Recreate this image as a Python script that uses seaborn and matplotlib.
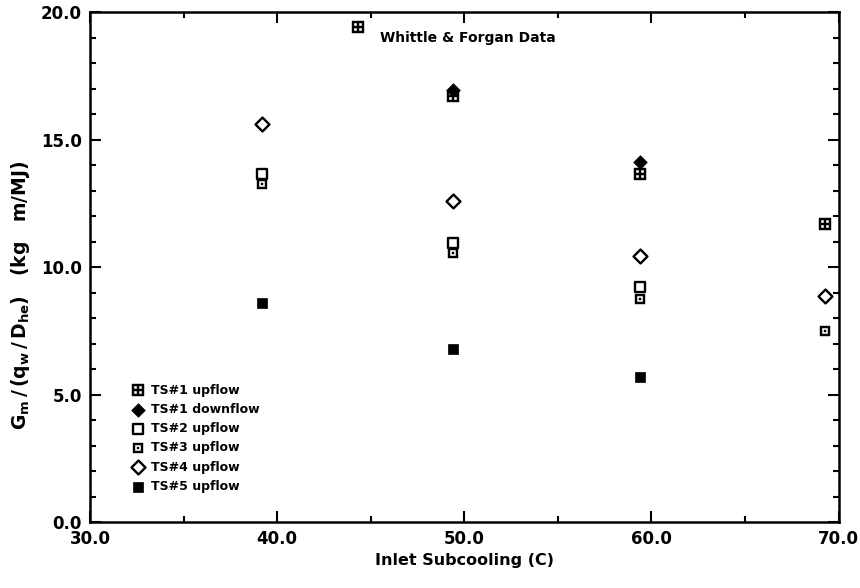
import numpy as np
import pandas as pd
import matplotlib
matplotlib.use("Agg")
import matplotlib.pyplot as plt
from matplotlib.path import Path
from matplotlib.ticker import MultipleLocator, FormatStrFormatter
import seaborn as sns

# ---- data ----
ts1_up_x = [44.3, 49.4, 59.4, 69.3]
ts1_up_y = [19.4, 16.7, 13.65, 11.7]
ts1_dn_x = [49.4, 59.4]
ts1_dn_y = [16.95, 14.1]
ts2_x = [39.2, 49.4, 59.4]
ts2_y = [13.65, 10.95, 9.2]
ts3_x = [39.2, 49.4, 59.4, 69.3]
ts3_y = [13.25, 10.55, 8.75, 7.5]
ts4_x = [39.2, 49.4, 59.4, 69.3]
ts4_y = [15.6, 12.6, 10.45, 8.87]
ts5_x = [39.2, 49.4, 59.4]
ts5_y = [8.6, 6.8, 5.7]

labels = ["TS#1 upflow", "TS#1 downflow", "TS#2 upflow",
          "TS#3 upflow", "TS#4 upflow", "TS#5 upflow"]

sns.set_style("ticks")
plt.rcParams["font.family"] = ["DejaVu Sans"]
plt.rcParams["font.weight"] = "bold"
plt.rcParams["mathtext.default"] = "bf"
plt.rcParams["axes.linewidth"] = 1.8
for k in ["text.color", "axes.labelcolor", "xtick.color", "ytick.color", "axes.edgecolor"]:
    plt.rcParams[k] = "black"


def sq(x0, x1, y0, y1, ccw=True):
    v = [(x0, y0), (x1, y0), (x1, y1), (x0, y1)]
    if not ccw:
        v = v[::-1]
    return v + [(x0, y0)], [Path.MOVETO, Path.LINETO, Path.LINETO, Path.LINETO, Path.CLOSEPOLY]


def compound(parts):
    verts, codes = [], []
    for v, c in parts:
        verts += v
        codes += c
    return Path(verts, codes)


# square with a 2x2 grid of holes (TS#1 upflow)
m_grid = compound([
    sq(-1, 1, -1, 1, True),
    sq(-0.62, -0.12, 0.12, 0.62, False),
    sq(0.12, 0.62, 0.12, 0.62, False),
    sq(-0.62, -0.12, -0.62, -0.12, False),
    sq(0.12, 0.62, -0.62, -0.12, False),
])
# thick square with centre dot (TS#3)
m_dot = compound([
    sq(-1, 1, -1, 1, True),
    sq(-0.55, 0.55, -0.55, 0.55, False),
    sq(-0.22, 0.22, -0.22, 0.22, True),
])

fig = plt.figure(figsize=(8.6, 5.88), dpi=100)
ax = fig.add_axes([0.1047, 0.112, 0.8703, 0.8676])

series = {
    "TS#1 downflow": (ts1_dn_x, ts1_dn_y, dict(marker="D", s=48, facecolor="black", edgecolor="black", linewidth=0.5)),
    "TS#1 upflow": (ts1_up_x, ts1_up_y, dict(marker=m_grid, s=72, facecolor="black", edgecolor="black", linewidth=0.3)),
    "TS#2 upflow": (ts2_x, ts2_y, dict(marker="s", s=52, facecolor="white", edgecolor="black", linewidth=1.7)),
    "TS#3 upflow": (ts3_x, ts3_y, dict(marker=m_dot, s=50, facecolor="black", edgecolor="black", linewidth=0.3)),
    "TS#4 upflow": (ts4_x, ts4_y, dict(marker="D", s=50, facecolor="white", edgecolor="black", linewidth=1.7)),
    "TS#5 upflow": (ts5_x, ts5_y, dict(marker="s", s=50, facecolor="black", edgecolor="black", linewidth=0.5)),
}

for name, (xs, ys, kw) in series.items():
    df = pd.DataFrame({"x": xs, "y": ys})
    sns.scatterplot(data=df, x="x", y="y", ax=ax, label=name, zorder=3, **kw)

ax.set_xlim(30, 70)
ax.set_ylim(0, 20)
ax.xaxis.set_major_locator(MultipleLocator(10))
ax.xaxis.set_minor_locator(MultipleLocator(5))
ax.yaxis.set_major_locator(MultipleLocator(5))
ax.yaxis.set_minor_locator(MultipleLocator(1))
ax.xaxis.set_major_formatter(FormatStrFormatter("%.1f"))
ax.yaxis.set_major_formatter(FormatStrFormatter("%.1f"))
ax.tick_params(which="both", direction="in", top=True, right=True, width=1.5, colors="black")
ax.tick_params(which="major", length=8, labelsize=12, pad=6)
ax.tick_params(which="minor", length=4)
for lab in ax.get_xticklabels() + ax.get_yticklabels():
    lab.set_fontweight("bold")
for sp in ax.spines.values():
    sp.set_visible(True)
    sp.set_linewidth(1.8)
    sp.set_color("black")

ax.set_xlabel("Inlet Subcooling (C)", fontsize=11.5, fontweight="bold", labelpad=3)
ax.set_ylabel(r"$G_m\,/\,(q_w\,/\,D_{he})$   (kg   m/MJ)", fontsize=13.5, fontweight="bold")
ax.yaxis.set_label_coords(-0.078, 0.445)

ax.text(0.505, 0.949, "Whittle & Forgan Data", transform=ax.transAxes,
        ha="center", va="center", fontsize=10, fontweight="bold")

handles, labs = ax.get_legend_handles_labels()
hmap = dict(zip(labs, handles))
leg = ax.legend([hmap[l] for l in labels], labels, loc="lower left",
                bbox_to_anchor=(0.046, 0.045), frameon=False,
                handletextpad=0.44, labelspacing=0.5, borderpad=0,
                handlelength=1.2, prop={"weight": "bold", "size": 9})

fig.savefig("out.png", dpi=100)
